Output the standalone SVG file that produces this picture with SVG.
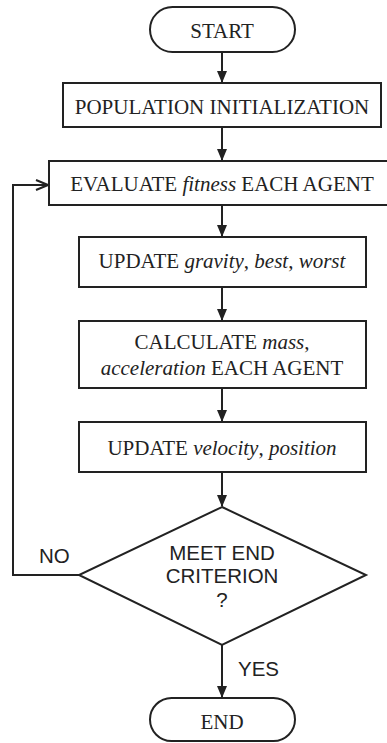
<svg xmlns="http://www.w3.org/2000/svg" width="387" height="743" viewBox="0 0 387 743">
  <defs>
    <style>
      .shape { fill: #fff; stroke: #222; stroke-width: 2; }
      .edge { fill: none; stroke: #222; stroke-width: 2; }
      .serif { font-family: "Liberation Serif", "Times New Roman", serif; font-size: 21px; fill: #222; text-anchor: middle; }
      .sans { font-family: "Liberation Sans", Arial, sans-serif; font-size: 20.5px; fill: #222; text-anchor: middle; }
      .lbl { font-family: "Liberation Sans", Arial, sans-serif; font-size: 20.5px; fill: #222; }
      .it { font-style: italic; }
    </style>
    <marker id="arrow" markerWidth="12" markerHeight="12" refX="11" refY="5" orient="auto" markerUnits="userSpaceOnUse" viewBox="0 0 12 10">
      <path d="M0,0 L12,5 L0,10 Z" fill="#222"/>
    </marker>
    <marker id="open" markerWidth="14" markerHeight="12" refX="13" refY="6" orient="auto" markerUnits="userSpaceOnUse" viewBox="0 0 14 12">
      <path d="M1,1 L13,6 L1,11" fill="none" stroke="#222" stroke-width="2"/>
    </marker>
  </defs>
  <rect width="387" height="743" fill="#fff"/>

  <g id="connectors">
    <line class="edge" x1="222" y1="52" x2="222" y2="82" marker-end="url(#arrow)"/>
    <line class="edge" x1="222" y1="127" x2="222" y2="160" marker-end="url(#arrow)"/>
    <line class="edge" x1="222" y1="205" x2="222" y2="236" marker-end="url(#arrow)"/>
    <line class="edge" x1="222" y1="287" x2="222" y2="320" marker-end="url(#arrow)"/>
    <line class="edge" x1="222" y1="388" x2="222" y2="421" marker-end="url(#arrow)"/>
    <line class="edge" x1="222" y1="472" x2="222" y2="506" marker-end="url(#arrow)"/>
    <line class="edge" x1="222" y1="645" x2="222" y2="697" marker-end="url(#arrow)"/>
    <polyline class="edge" points="79,575 13,575 13,185 48,185" marker-end="url(#open)"/>
    <text class="lbl" x="39" y="563">NO</text>
    <text class="lbl" x="238" y="676">YES</text>
  </g>

  <g id="start">
    <rect class="shape" x="150" y="7" width="145" height="45" rx="22.5"/>
    <text class="serif" x="222" y="38">START</text>
  </g>

  <g id="init">
    <rect class="shape" x="63" y="83" width="318" height="44"/>
    <text class="serif" x="222" y="114">POPULATION INITIALIZATION</text>
  </g>

  <g id="evaluate">
    <rect class="shape" x="49" y="161" width="340" height="44"/>
    <text class="serif" x="222" y="191">EVALUATE <tspan class="it">fitness</tspan> EACH AGENT</text>
  </g>

  <g id="update-gravity">
    <rect class="shape" x="79" y="237" width="287" height="50"/>
    <text class="serif" x="222" y="268">UPDATE <tspan class="it">gravity</tspan>, <tspan class="it">best</tspan>, <tspan class="it">worst</tspan></text>
  </g>

  <g id="calculate">
    <rect class="shape" x="79" y="321" width="287" height="67"/>
    <text class="serif" x="222" y="349">CALCULATE <tspan class="it">mass</tspan>,</text>
    <text class="serif" x="222" y="375"><tspan class="it">acceleration</tspan> EACH AGENT</text>
  </g>

  <g id="update-velocity">
    <rect class="shape" x="79" y="422" width="287" height="50"/>
    <text class="serif" x="222" y="455">UPDATE <tspan class="it">velocity</tspan>, <tspan class="it">position</tspan></text>
  </g>

  <g id="decision">
    <polygon class="shape" points="222,507 366,575 222,645 79,575"/>
    <text class="sans" x="222" y="560">MEET END</text>
    <text class="sans" x="222" y="583">CRITERION</text>
    <text class="sans" x="222" y="607">?</text>
  </g>

  <g id="end">
    <rect class="shape" x="150" y="698" width="145" height="43" rx="21.5"/>
    <text class="serif" x="222" y="729">END</text>
  </g>
</svg>
